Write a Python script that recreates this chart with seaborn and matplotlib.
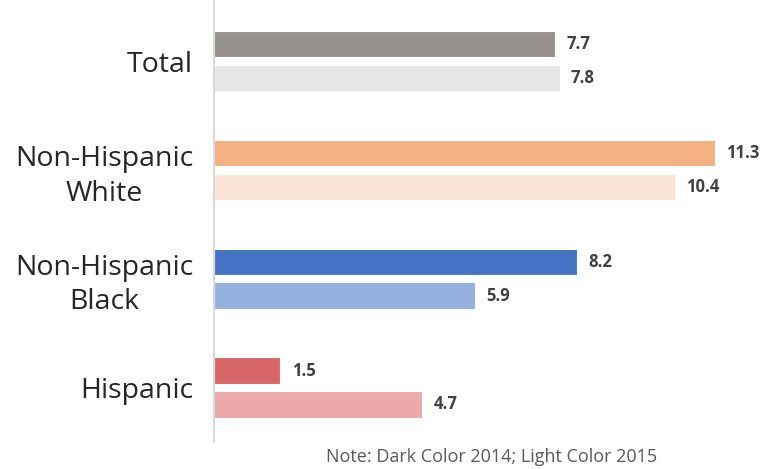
import pandas as pd
import matplotlib
matplotlib.use("Agg")
import matplotlib.pyplot as plt
import seaborn as sns

sns.set_style("white")
plt.rcParams['font.family'] = ['Open Sans', 'DejaVu Sans']

groups = ['Total', 'Non-Hispanic\nWhite', 'Non-Hispanic\nBlack', 'Hispanic']
years = ['2014', '2015']
values_2014 = [7.7, 11.3, 8.2, 1.5]
values_2015 = [7.8, 10.4, 5.9, 4.7]

dark_colors = ['#96918F', '#F4B183', '#4472C4', '#D86666']
light_colors = ['#E6E6E6', '#FBE5D6', '#95B1DF', '#EBA9A9']

df = pd.DataFrame({
    'group': groups * 2,
    'year': [years[0]] * 4 + [years[1]] * 4,
    'value': values_2014 + values_2015,
})

fig = plt.figure(figsize=(7.75, 4.69), dpi=100)
ax = fig.add_axes([214 / 775, 1 - 442 / 469, (760 - 214) / 775, 442 / 469])

sns.barplot(data=df, x='value', y='group', hue='year', order=groups,
            hue_order=years, dodge=True, width=0.62, gap=0.22,
            legend=False, ax=ax, errorbar=None)

# recolour: seaborn gives one colour per hue level, the chart uses one per group
n = len(groups)
for i, bar in enumerate(ax.patches[:2 * n]):
    cols = dark_colors if i < n else light_colors
    bar.set_facecolor(cols[i % n])
    bar.set_edgecolor('white')
    bar.set_linewidth(0.8)

for cont in ax.containers:
    ax.bar_label(cont, fmt='%.1f', padding=8, fontsize=12,
                 fontweight='bold', color='#404040')

ax.set_xlim(0, (760 - 214) / 44.3)
ax.set_ylim(3.501, -0.561)
ax.set_xlabel('')
ax.set_ylabel('')
ax.set_xticks([])
ax.tick_params(axis='y', length=0, pad=15, labelsize=20.5)
for lab in ax.get_yticklabels():
    lab.set_ha('right')
    lab.set_multialignment('center')
    lab.set_linespacing(1.3)

for side in ['top', 'right', 'bottom']:
    ax.spines[side].set_visible(False)
ax.spines['left'].set_color('#D9D9D9')
ax.spines['left'].set_linewidth(1.5)

fig.text(492 / 775, 1 - 457 / 469, 'Note: Dark Color 2014; Light Color 2015',
         ha='center', va='center', fontsize=13, color='#595959')

fig.savefig('out.png', dpi=100)
